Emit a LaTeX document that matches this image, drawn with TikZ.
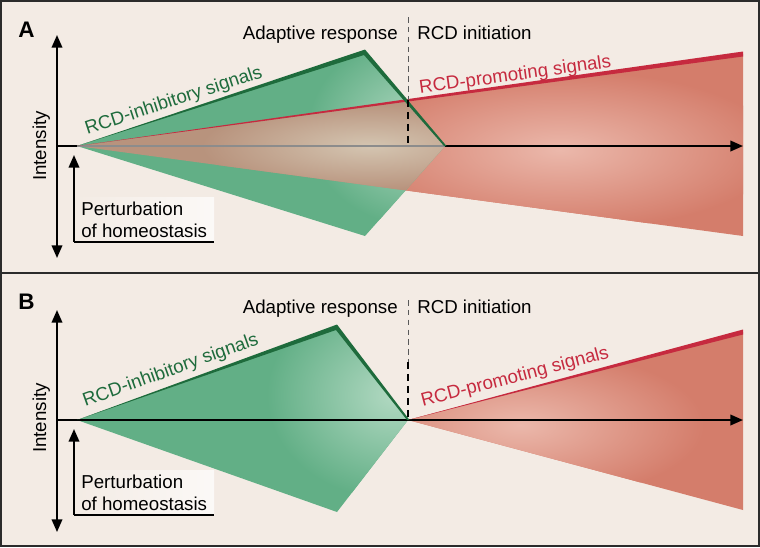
\documentclass[tikz,border=0pt]{standalone}
\usepackage{fontspec}
\setmainfont{Liberation Sans}
\usepackage{xcolor}
\usetikzlibrary{arrows.meta}

\definecolor{bgbeige}{HTML}{F3EBE4}
\definecolor{framegray}{HTML}{2B2B2B}
\definecolor{sigred}{HTML}{D47D6B}
\definecolor{sigredlight}{HTML}{EBB8AB}
\definecolor{linered}{HTML}{C62A3F}
\definecolor{siggreen}{HTML}{62AF86}
\definecolor{siggreenlight}{HTML}{B2D9C2}
\definecolor{linegreen}{HTML}{1E6B3C}
\definecolor{mixtan}{HTML}{B8937D}
\definecolor{mixtanlight}{HTML}{D4C5B1}

\tikzset{
  lbl/.style={font=\fontsize{13.3}{15.6}\selectfont, inner sep=0pt},
  panellbl/.style={font=\fontsize{16}{18}\selectfont\bfseries, inner sep=0pt, anchor=base west},
  tip/.style={-{Triangle[length=9pt,width=7.5pt]}},
  axisline/.style={line width=1.4pt, black},
  dashthin/.style={line width=0.7pt, black!65, dash pattern=on 4pt off 3pt},
  dashthick/.style={line width=1.4pt, black, dash pattern=on 5pt off 3.5pt},
  pertbox/.style={lbl, anchor=south west, align=left, inner xsep=5pt, inner ysep=3pt,
    left color=bgbeige, right color=white!70!bgbeige},
}

\begin{document}
\begin{tikzpicture}[x=0.025cm,y=-0.025cm]
\useasboundingbox (0,0) rectangle (760,547);
\fill[bgbeige] (0,0) rectangle (760,547);

% ---------- panel A ----------
\coordinate (oA) at (77,146);
\coordinate (gtopA) at (365,52);
\coordinate (grightA) at (445,146);
\coordinate (gbotA) at (365,236);
\coordinate (rtopA) at (743,54);
\coordinate (rbotA) at (743,236);

% red fan
\begin{scope}
  \clip (oA) -- (rtopA) -- (rbotA) -- cycle;
  \fill[sigred] (60,40) rectangle (760,250);
  \shade[inner color=sigredlight, outer color=sigred] (560,150) ellipse [x radius=5.5cm, y radius=2cm];
\end{scope}

% green fan
\begin{scope}
  \clip (oA) -- (gtopA) -- (grightA) -- (gbotA) -- cycle;
  \fill[siggreen] (60,40) rectangle (460,250);
  \shade[inner color=siggreenlight, outer color=siggreen] (420,130) ellipse [x radius=2.8cm, y radius=2.4cm];
\end{scope}

% where both overlap
\begin{scope}
  \clip (oA) -- (gtopA) -- (grightA) -- (gbotA) -- cycle;
  \clip (oA) -- (rtopA) -- (rbotA) -- cycle;
  \fill[mixtan] (60,40) rectangle (460,250);
  \shade[inner color=mixtanlight, outer color=mixtan] (370,146) ellipse [x radius=4.2cm, y radius=1.1cm];
\end{scope}

\draw[axisline, tip] (57,146) -- (743,146);
\draw[line width=1.4pt, black!45] (oA) -- (grightA);
\draw[axisline, {Triangle[length=9pt,width=7.5pt]}-{Triangle[length=9pt,width=7.5pt]}] (57,35) -- (57,258);

% signal edges
\fill[linered] (oA) -- (743,51.5) -- (743,56.5) -- cycle;
\fill[linegreen] (oA) -- (365,49.5) -- (446.5,146) -- (444,146) -- (364,55) -- cycle;

\path (oA) -- (gtopA) node[pos=0.35, sloped, above, lbl, inner sep=2.5pt, text=linegreen] (inhibA) {RCD-inhibitory signals};
\path (oA) -- (rtopA) node[pos=0.66, sloped, above, lbl, inner sep=0.5pt, text=linered] (promA) {RCD-promoting signals};

\draw[dashthin] (408,17) -- (408,100);
\draw[dashthick] (408,100) -- (408,146);

\node[lbl, anchor=base east] (adaptA) at (398,39) {Adaptive response};
\node[lbl, anchor=base west] (initA) at (417,39) {RCD initiation};
\node[panellbl] (labA) at (18,37) {A};
\node[lbl, rotate=90, anchor=base] (intA) at (46,146) {Intensity};

\node[pertbox] (pertA) at (74,242) {Perturbation\\of homeostasis};
\coordinate (pertTipA) at (74,155);
\draw[line width=1.1pt] (pertA.south west) -- (pertA.south east);
\draw[axisline, tip] (pertA.south west) -- (pertTipA);

% ---------- panel B ----------
\coordinate (oB) at (77,420);
\coordinate (gtopB) at (337,327);
\coordinate (grightB) at (408,420);
\coordinate (gbotB) at (337,512);
\coordinate (rtopB) at (743,332);
\coordinate (rbotB) at (743,510);

% green fan
\begin{scope}
  \clip (oB) -- (gtopB) -- (grightB) -- (gbotB) -- cycle;
  \fill[siggreen] (60,310) rectangle (420,520);
  \shade[inner color=siggreenlight, outer color=siggreen] (395,395) ellipse [x radius=3.2cm, y radius=2.6cm];
\end{scope}

% red fan
\begin{scope}
  \clip (grightB) -- (rtopB) -- (rbotB) -- cycle;
  \fill[sigred] (400,320) rectangle (760,520);
  \shade[inner color=sigredlight, outer color=sigred] (520,425) ellipse [x radius=4.6cm, y radius=1.9cm];
\end{scope}

\draw[axisline, tip] (57,420) -- (743,420);
\draw[axisline, {Triangle[length=9pt,width=7.5pt]}-{Triangle[length=9pt,width=7.5pt]}] (57,310) -- (57,532);

\fill[linered] (grightB) -- (743,329.5) -- (743,334.5) -- cycle;
\fill[linegreen] (oB) -- (337,324.5) -- (409.5,420) -- (407,420) -- (336,330) -- cycle;

\path (oB) -- (gtopB) node[pos=0.38, sloped, above, lbl, inner sep=4pt, text=linegreen] (inhibB) {RCD-inhibitory signals};
\path (grightB) -- (rtopB) node[pos=0.33, sloped, above, lbl, inner sep=3.5pt, text=linered] (promB) {RCD-promoting signals};

\draw[dashthin] (408,300) -- (408,362);
\draw[dashthick] (408,362) -- (408,420);

\node[lbl, anchor=base east] (adaptB) at (398,313) {Adaptive response};
\node[lbl, anchor=base west] (initB) at (417,313) {RCD initiation};
\node[panellbl] (labB) at (18,309) {B};
\node[lbl, rotate=90, anchor=base] (intB) at (46,418) {Intensity};

\node[pertbox] (pertB) at (74,515) {Perturbation\\of homeostasis};
\coordinate (pertTipB) at (74,429);
\draw[line width=1.1pt] (pertB.south west) -- (pertB.south east);
\draw[axisline, tip] (pertB.south west) -- (pertTipB);

% frame
\draw[framegray, line width=2pt] (1,1) rectangle (759,546);
\draw[framegray, line width=1.6pt] (0,273) -- (760,273);
\end{tikzpicture}
\end{document}
